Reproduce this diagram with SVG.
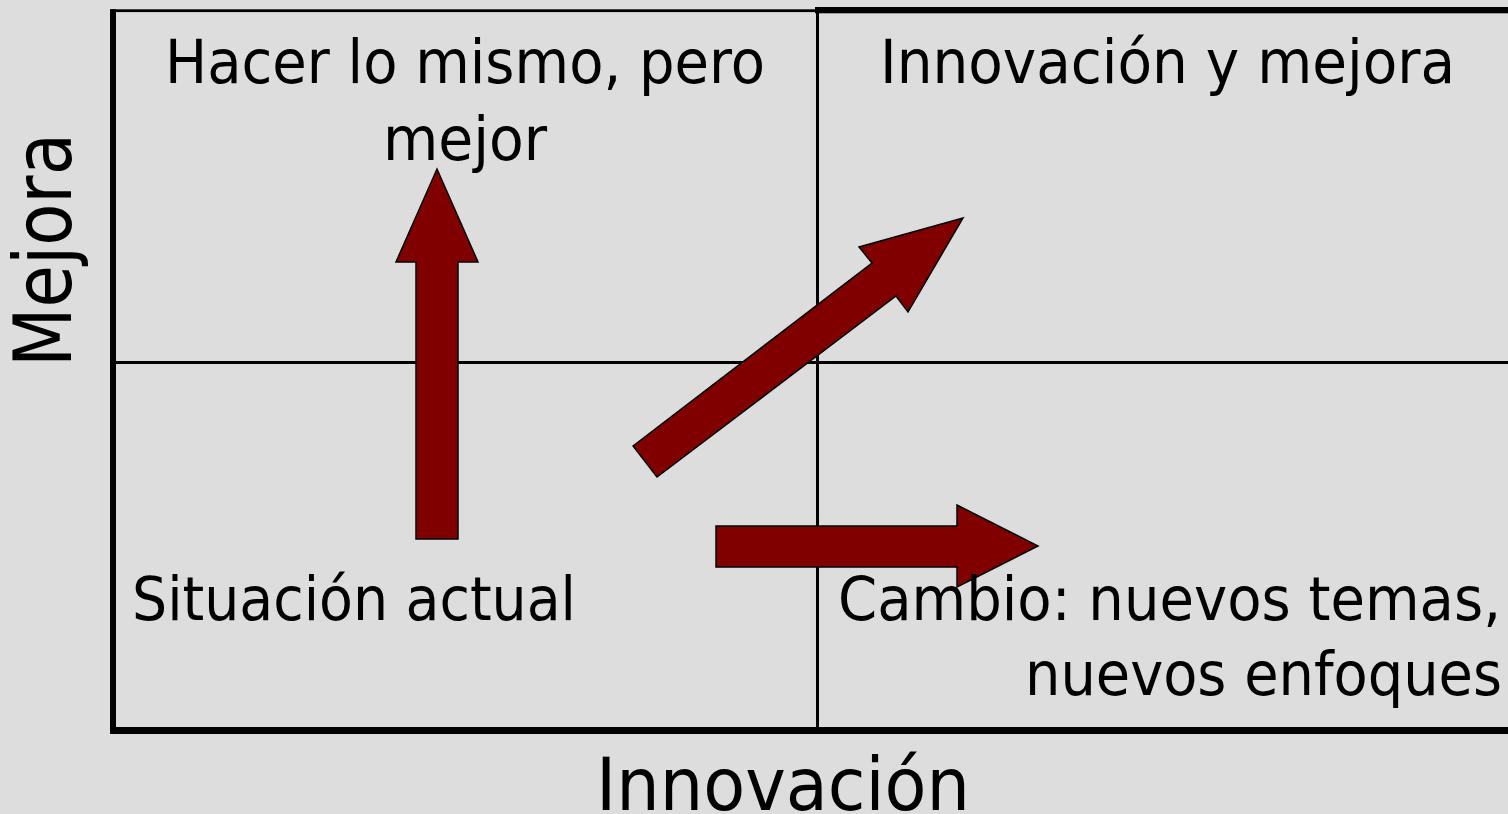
<svg xmlns="http://www.w3.org/2000/svg" width="1508" height="814" viewBox="0 0 1508 814">
<style>
.t{font-family:"DejaVu Sans Condensed","DejaVu Sans",sans-serif;font-stretch:condensed;font-size:61px;fill:#000}
.ax{font-family:"DejaVu Sans",sans-serif;fill:#000}
.arr{fill:#800000;stroke:#000;stroke-width:1.5;stroke-linejoin:miter}
</style>
<rect x="0" y="0" width="1508" height="814" fill="#dddddd"/>
<g id="frame" fill="#000">
<rect x="110" y="9.3" width="708" height="2.8"/>
<rect x="815" y="7" width="693" height="6.3"/>
<rect x="110" y="9.3" width="6" height="724.7"/>
<rect x="816" y="7" width="3" height="723"/>
<rect x="116" y="361" width="1392" height="3"/>
<rect x="110" y="727" width="1398" height="7"/>
</g>
<g id="connectors">
<polygon id="arrow-up" class="arr" points="416,539 416,262 396,262 437,169 478,262 458,262 458,539"/>
<polygon id="arrow-diag" class="arr" points="633,446 872,263 859,247 963,218 908,312 896,296 657,477"/>
<polygon id="arrow-right" class="arr" points="716,526 957,526 957,505 1038,546 957,587 957,567 716,567"/>
</g>
<g id="q-top-left">
<text class="t" x="165" y="83" textLength="600" lengthAdjust="spacingAndGlyphs">Hacer lo mismo, pero</text>
<text class="t" x="383" y="160" textLength="164" lengthAdjust="spacingAndGlyphs">mejor</text>
</g>
<g id="q-top-right">
<text class="t" x="880" y="83" textLength="575" lengthAdjust="spacingAndGlyphs">Innovación y mejora</text>
</g>
<g id="q-bottom-left">
<text class="t" x="132" y="620" textLength="444" lengthAdjust="spacingAndGlyphs">Situación actual</text>
</g>
<g id="q-bottom-right">
<text class="t" x="838" y="620" textLength="663" lengthAdjust="spacingAndGlyphs">Cambio: nuevos temas,</text>
<text class="t" x="1025" y="695" textLength="477" lengthAdjust="spacingAndGlyphs">nuevos enfoques</text>
</g>
<g id="axis-x">
<text class="ax" x="596" y="810" font-size="73" textLength="374" lengthAdjust="spacingAndGlyphs">Innovación</text>
</g>
<g id="axis-y">
<text class="ax" transform="translate(71,367) rotate(-90)" x="0" y="0" font-size="80" textLength="234" lengthAdjust="spacingAndGlyphs">Mejora</text>
</g>
</svg>
